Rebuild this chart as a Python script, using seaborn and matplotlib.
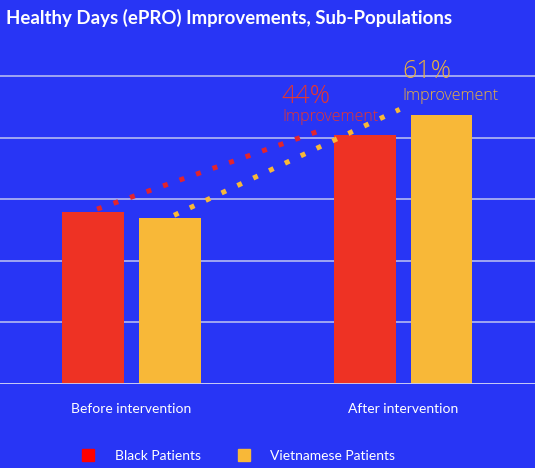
import matplotlib
matplotlib.use("Agg")
import matplotlib.pyplot as plt
from matplotlib.lines import Line2D
import seaborn as sns
import pandas as pd

# values (one gridline = 1 unit)
periods = ["Before intervention", "After intervention"]
groups = ["Black Patients", "Vietnamese Patients"]
black = [2.79, 4.04]
vietnamese = [2.69, 4.37]
improvement = ["44%", "61%"]

bg = "#2835F5"
red = "#EE3224"
yellow = "#F8B838"

df = pd.DataFrame({
    "period": periods * 2,
    "group": [groups[0]] * 2 + [groups[1]] * 2,
    "days": black + vietnamese,
})

sns.set_theme(style="white")
plt.rcParams["font.family"] = ["Lato", "DejaVu Sans"]

fig = plt.figure(figsize=(5.35, 4.68), dpi=100, facecolor=bg)
ax = fig.add_axes([0, 0.1795, 1, 0.692])
ax.set_facecolor(bg)

sns.barplot(data=df, x="period", y="days", hue="group", order=periods,
            hue_order=groups, palette=[red, yellow], width=0.567, gap=0.195,
            saturation=1, legend=False, linewidth=0, ax=ax, zorder=3)

ax.set_xlim(-0.484, 1.486)
ax.set_ylim(0, 5.26)
ax.set_yticks([0, 1, 2, 3, 4, 5])
ax.yaxis.grid(True, color="#A9AEF2", linewidth=1.3, zorder=0)
ax.tick_params(axis="y", left=False, labelleft=False)
ax.tick_params(axis="x", bottom=False, colors="white", labelsize=10, pad=8)
ax.set_xlabel("")
ax.set_ylabel("")
for s in ax.spines.values():
    s.set_visible(False)
ax.axhline(0, color="#C9CCF6", linewidth=2, zorder=4)

# dotted connectors: from the "before" bar top to the "after" bar's left corner
half = 0.567 / 2
bw = 0.567 / 2 * (1 - 0.195)
for i, (vals, col) in enumerate([(black, "#E2242E"), (vietnamese, yellow)]):
    xc0 = 0 - half / 2 + i * half
    xl1 = 1 - half / 2 + i * half - bw / 2
    ax.plot([xc0 + 0.015, xl1 - 0.04], [vals[0] + 0.05, vals[1] + 0.09],
            color=col, linewidth=3.6, linestyle=(0, (1, 2.5)),
            solid_capstyle="butt", dash_capstyle="butt", zorder=5)

ax.text(0.554, 4.57, improvement[0], color="#E8352C", fontsize=18,
        family="Open Sans", fontweight="light")
ax.text(0.554, 4.27, "Improvement", color="#E8352C", fontsize=11.5,
        family="Open Sans", fontweight="light")
ax.text(0.996, 4.97, improvement[1], color="#E8B040", fontsize=18,
        family="Open Sans", fontweight="light")
ax.text(0.996, 4.61, "Improvement", color="#E8B040", fontsize=11.5,
        family="Open Sans", fontweight="light")

fig.text(0.012, 0.962, "Healthy Days (ePRO) Improvements, Sub-Populations",
         color="white", fontsize=13.4, fontweight="bold", va="center")

handles = [Line2D([], [], marker="s", linestyle="", markersize=8,
                  markerfacecolor=c, markeredgecolor=c)
           for c in ["#FF0000", yellow]]
fig.legend(handles, groups, loc="center", bbox_to_anchor=(0.445, 0.025),
           ncol=2, frameon=False, fontsize=10, labelcolor="white",
           handletextpad=1.4, columnspacing=2.6, handlelength=1)

fig.savefig("out.png", dpi=100, facecolor=bg)
